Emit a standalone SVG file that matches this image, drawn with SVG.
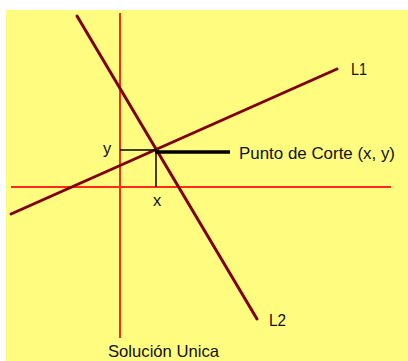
<svg xmlns="http://www.w3.org/2000/svg" width="408" height="361" viewBox="0 0 408 361">
<style>
.axis{stroke:#FF2A1A;stroke-width:2;fill:none}
.line{stroke:#800000;stroke-width:3;fill:none;stroke-linecap:round}
.thin{stroke:#000;stroke-width:1.5;fill:none}
.thick{stroke:#000;stroke-width:3.5;fill:none}
text{font-family:"Liberation Sans",Arial,sans-serif;font-size:16.5px;fill:#111}
</style>
<rect x="6" y="10" width="402" height="351" fill="#FFFC80"/>
<g id="connectors">
<line class="axis" x1="120" y1="13" x2="120" y2="338"/>
<line class="axis" x1="11" y1="187" x2="391" y2="187"/>
<line id="L1line" class="line" x1="11" y1="214" x2="337" y2="69"/>
<line id="L2line" class="line" x1="77" y1="16" x2="257" y2="319"/>
<line class="thin" x1="120" y1="150" x2="157" y2="150"/>
<line class="thin" x1="156" y1="150" x2="156" y2="187"/>
<line class="thick" x1="155" y1="152" x2="230" y2="152"/>
</g>
<g id="label-L1"><text x="351" y="75" textLength="16" lengthAdjust="spacingAndGlyphs">L1</text></g>
<g id="label-L2"><text x="269" y="326" textLength="17" lengthAdjust="spacingAndGlyphs">L2</text></g>
<g id="label-y"><text x="103" y="154">y</text></g>
<g id="label-x"><text x="153" y="206">x</text></g>
<g id="label-punto"><text x="239" y="159" textLength="156" lengthAdjust="spacingAndGlyphs">Punto de Corte (x, y)</text></g>
<g id="label-solucion"><text x="108" y="357" textLength="111" lengthAdjust="spacingAndGlyphs">Solución Unica</text></g>
</svg>
